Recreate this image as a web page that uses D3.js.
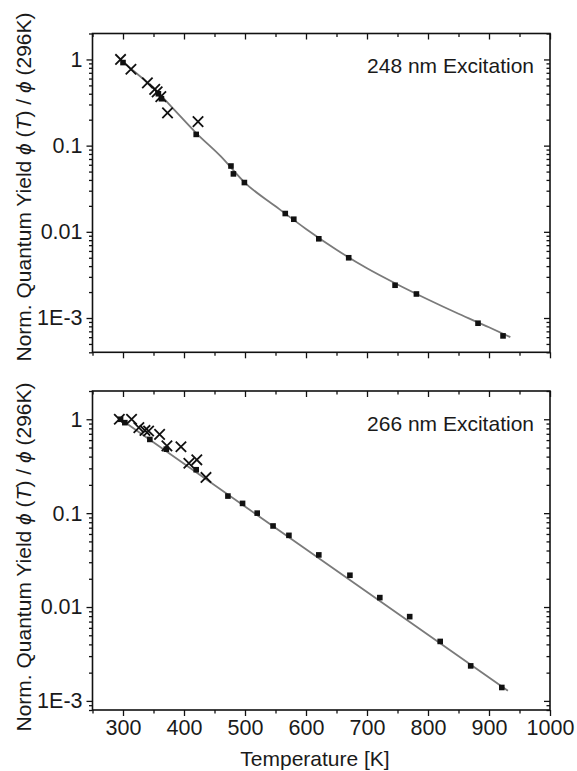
<!DOCTYPE html>
<html>
<head>
<meta charset="utf-8">
<script src="https://cdn.jsdelivr.net/npm/d3@7"></script>
<style>
  body { margin: 0; background: #fff; }
  svg text { font-family: "Liberation Sans", Arial, sans-serif; fill: #1a1a1a; }
</style>
</head>
<body>
<div id="chart"></div>
<script>
// Data: temperature [K] and normalised quantum yield

// 248 nm panel
var sq248T = [300, 358, 363, 420, 477, 481, 499, 566, 580, 621, 670, 746, 781, 882, 923];
var sq248V = [0.92, 0.40, 0.35, 0.135, 0.058, 0.047, 0.0373, 0.0163, 0.0140, 0.0083, 0.0050, 0.0024, 0.0019, 0.00087, 0.00062];
var x248T = [296, 313, 340, 352, 356, 362, 373, 423];
var x248V = [1.0, 0.77, 0.535, 0.45, 0.42, 0.37, 0.24, 0.19];
var fit248T = [296, 320, 350, 380, 420, 460, 500, 550, 600, 650, 700, 750, 800, 850, 900, 935];
var fit248V = [1.0, 0.71, 0.47, 0.28, 0.14, 0.0755, 0.037, 0.0198, 0.0108, 0.0062, 0.00377, 0.00245, 0.00164, 0.00112, 0.00078, 0.0006];

// 266 nm panel
var sq266T = [296, 303, 344, 371, 420, 472, 496, 520, 546, 572, 621, 672, 721, 770, 820, 870, 921];
var sq266V = [1.0, 0.92, 0.61, 0.48, 0.29, 0.152, 0.127, 0.100, 0.073, 0.058, 0.0359, 0.0218, 0.0126, 0.0079, 0.0043, 0.00236, 0.00139];
var x266T = [294, 314, 326, 336, 342, 360, 372, 395, 408, 421, 436];
var x266V = [1.0, 1.0, 0.815, 0.76, 0.75, 0.69, 0.52, 0.51, 0.34, 0.37, 0.24];
var fit266T = [296, 600, 931];
var fit266V = [1.0, 0.0412, 0.00128];

// Axis ticks
var xMajor = [300, 400, 500, 600, 700, 800, 900, 1000];
var xMinor = [250, 350, 450, 550, 650, 750, 850, 950];
var yMajor = [1, 0.1, 0.01, 0.001];
var yLabels = ["1", "0.1", "0.01", "1E-3"];

var W = 577, H = 771;
var svg = d3.select("#chart").append("svg")
	.attr("width", W)
	.attr("height", H);

function zip(a, b) { return a.map(function(d, i) { return [d, b[i]]; }); }

function logMinor(lo, hi) {
	var out = [];
	for (var e = -5; e <= 1; e++) {
		for (var m = 2; m <= 9; m++) {
			var v = m * Math.pow(10, e);
			if (v >= lo * 0.999 && v <= hi * 1.001) out.push(v);
		}
	}
	return out;
}

// panel - draw one log-scale panel
function panel(opt) {
	var x = d3.scaleLinear().domain([250, 1000]).range([92.5, 550]);
	var y = d3.scaleLog().domain(opt.ydom).range([opt.bottom, opt.top]);
	var g = svg.append("g");
	var minY = logMinor(opt.ydom[0], opt.ydom[1]);

	function styleAxis(a) {
		a.select(".domain").remove();
		a.selectAll("line").attr("stroke", "#111").attr("stroke-width", 1.3);
		a.selectAll("text").attr("font-size", "21.5px").attr("fill", "#1a1a1a")
			.style("font-family", "'Liberation Sans', Arial, sans-serif");
	}

	// left axis, outward ticks with labels
	g.append("g").attr("transform", "translate(92.5,0)")
		.call(d3.axisLeft(y).tickValues(minY).tickSize(3.5).tickFormat(""))
		.call(styleAxis);
	g.append("g").attr("transform", "translate(92.5,0)")
		.call(d3.axisLeft(y).tickValues(yMajor).tickSize(6).tickPadding(4)
			.tickFormat(function(d, i) { return yLabels[i]; }))
		.call(styleAxis);
	// right axis, ticks pointing inward
	g.append("g").attr("transform", "translate(550,0)")
		.call(d3.axisLeft(y).tickValues(minY).tickSize(3.5).tickFormat(""))
		.call(styleAxis);
	g.append("g").attr("transform", "translate(550,0)")
		.call(d3.axisLeft(y).tickValues(yMajor).tickSize(6).tickFormat(""))
		.call(styleAxis);
	// bottom axis, outward ticks
	g.append("g").attr("transform", "translate(0," + opt.bottom + ")")
		.call(d3.axisBottom(x).tickValues(xMinor).tickSize(3.5).tickFormat(""))
		.call(styleAxis);
	g.append("g").attr("transform", "translate(0," + opt.bottom + ")")
		.call(d3.axisBottom(x).tickValues(xMajor).tickSize(6).tickPadding(4)
			.tickFormat(opt.xlabels ? d3.format("d") : ""))
		.call(styleAxis);
	// top axis, ticks pointing inward
	g.append("g").attr("transform", "translate(0," + opt.top + ")")
		.call(d3.axisBottom(x).tickValues(xMinor).tickSize(3.5).tickFormat(""))
		.call(styleAxis);
	g.append("g").attr("transform", "translate(0," + opt.top + ")")
		.call(d3.axisBottom(x).tickValues(xMajor).tickSize(6).tickFormat(""))
		.call(styleAxis);

	// frame
	g.append("rect")
		.attr("x", 92.5).attr("y", opt.top)
		.attr("width", 550 - 92.5).attr("height", opt.bottom - opt.top)
		.attr("fill", "none").attr("stroke", "#111").attr("stroke-width", 1.6);

	// fit line
	var line = d3.line()
		.x(function(d) { return x(d[0]); })
		.y(function(d) { return y(d[1]); })
		.curve(d3.curveMonotoneX);
	g.append("path")
		.datum(zip(opt.fitT, opt.fitV))
		.attr("d", line)
		.attr("fill", "none")
		.attr("stroke", "#7a7a7a")
		.attr("stroke-width", 1.8);

	// squares
	g.selectAll(".sq")
		.data(zip(opt.sqT, opt.sqV))
		.enter().append("rect")
		  .attr("class", "sq")
		  .attr("x", function(d) { return x(d[0]) - 2.8; })
		  .attr("y", function(d) { return y(d[1]) - 2.8; })
		  .attr("width", 5.6)
		  .attr("height", 5.6)
		  .attr("fill", "#111");

	// crosses
	var s = 5.2;
	g.selectAll(".cr")
		.data(zip(opt.xT, opt.xV))
		.enter().append("path")
		  .attr("class", "cr")
		  .attr("d", function(d) {
			  var cx = x(d[0]), cy = y(d[1]);
			  return "M" + (cx - s) + "," + (cy - s) + "L" + (cx + s) + "," + (cy + s) +
				  "M" + (cx - s) + "," + (cy + s) + "L" + (cx + s) + "," + (cy - s);
		  })
		  .attr("stroke", "#111")
		  .attr("stroke-width", 1.8)
		  .attr("fill", "none");

	// annotation
	g.append("text")
		.attr("x", 534).attr("y", opt.top + 39.5)
		.attr("text-anchor", "end")
		.attr("font-size", "21px")
		.text(opt.label);

	// y label
	var yl = g.append("text")
		.attr("transform", "translate(31," + opt.ylabelY + ") rotate(-90)")
		.attr("text-anchor", "middle")
		.attr("font-size", "21px");
	yl.append("tspan").text("Norm. Quantum Yield ");
	yl.append("tspan").attr("font-style", "italic").text("\u03d5");
	yl.append("tspan").text(" (");
	yl.append("tspan").attr("font-style", "italic").text("T");
	yl.append("tspan").text(") / ");
	yl.append("tspan").attr("font-style", "italic").text("\u03d5");
	yl.append("tspan").text(" (296K)");
}

panel({
	top: 33.5, bottom: 352.3, ydom: [4e-4, 2], xlabels: false,
	sqT: sq248T, sqV: sq248V, xT: x248T, xV: x248V, fitT: fit248T, fitV: fit248V,
	label: "248 nm Excitation", ylabelY: 187
});

panel({
	top: 391, bottom: 710, ydom: [8e-4, 2], xlabels: true,
	sqT: sq266T, sqV: sq266V, xT: x266T, xV: x266V, fitT: fit266T, fitV: fit266V,
	label: "266 nm Excitation", ylabelY: 557
});

// x axis title
svg.append("text")
	.attr("x", 315).attr("y", 766)
	.attr("text-anchor", "middle")
	.attr("font-size", "21px")
	.text("Temperature [K]");
</script>
</body>
</html>
